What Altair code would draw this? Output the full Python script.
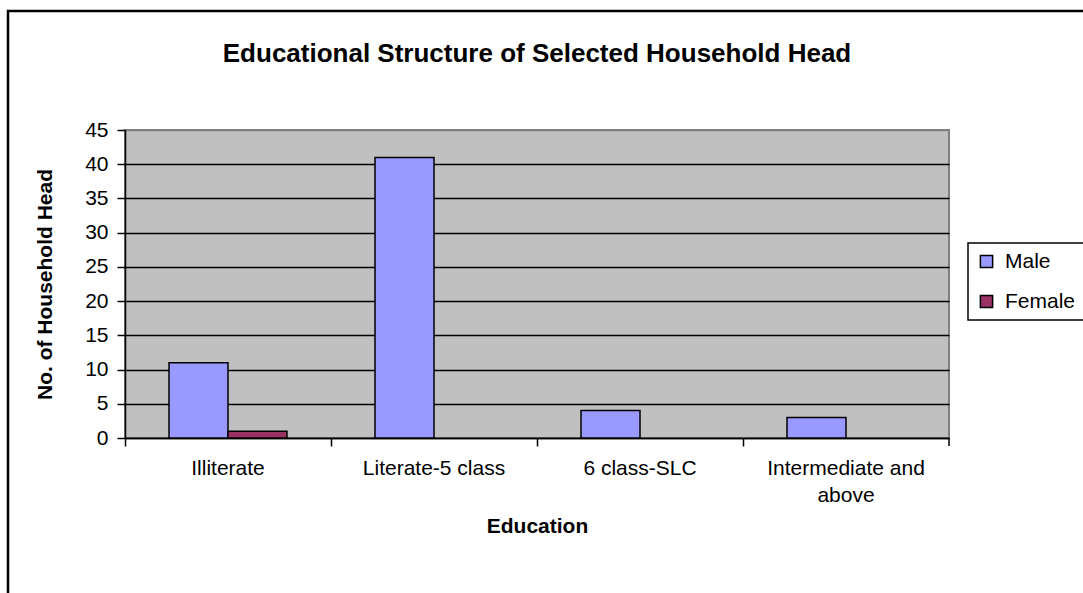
import altair as alt
import pandas as pd

categories = ["Illiterate", "Literate-5 class", "6 class-SLC", "Intermediate and above"]
series = ["Male", "Female"]
male = [11, 41, 4, 3]
female = [1, 0, 0, 0]
colors = ["#9999FF", "#993366"]
y_ticks = [0, 5, 10, 15, 20, 25, 30, 35, 40, 45]

rows = []
for c, m, f in zip(categories, male, female):
    rows.append({"education": c, "sex": "Male", "count": m})
    rows.append({"education": c, "sex": "Female", "count": f})
df = pd.DataFrame(rows)

W, H = 824, 308
FONT = "Liberation Sans"

bars = alt.Chart(df).transform_filter("datum.count > 0").mark_bar(
    stroke="black", strokeWidth=1.5
).encode(
    x=alt.X(
        "education:N",
        sort=categories,
        scale=alt.Scale(paddingInner=0, paddingOuter=0),
        axis=alt.Axis(
            title="Education",
            titleFontSize=21,
            titleFontWeight="bold",
            titleColor="black",
            titleBaseline="middle",
            titleY=88,
            labelAngle=0,
            labelFontSize=21,
            labelColor="black",
            labelPadding=11,
            labelLineHeight=27,
            labelExpr="datum.label == 'Intermediate and above' ? ['Intermediate and', 'above'] : datum.label",
            bandPosition=0,
            tickSize=8,
            tickColor="black",
            tickWidth=1.5,
            domainColor="black",
            domainWidth=1.5,
            grid=False,
        ),
    ),
    xOffset=alt.XOffset(
        "sex:N",
        sort=series,
        scale=alt.Scale(domain=series, paddingInner=0, paddingOuter=0.746),
    ),
    y=alt.Y(
        "count:Q",
        scale=alt.Scale(domain=[0, 45], nice=False),
        axis=alt.Axis(
            title="No. of Household Head",
            titleFontSize=21,
            titleFontWeight="bold",
            titleColor="black",
            titleX=-80,
            titleY=H / 2,
            titleAlign="center",
            titleBaseline="middle",
            titleAngle=270,
            values=y_ticks,
            labelFontSize=21,
            labelColor="black",
            labelPadding=9,
            tickSize=8,
            tickColor="black",
            tickWidth=1.5,
            domainColor="black",
            domainWidth=1.5,
            grid=True,
            gridColor={"condition": {"test": "datum.value == 45", "value": "#808080"}, "value": "black"},
            gridWidth=1.5,
        ),
    ),
    color=alt.Color(
        "sex:N",
        sort=series,
        scale=alt.Scale(domain=series, range=colors),
        legend=alt.Legend(
            title=None,
            orient="none",
            legendX=843,
            legendY=113,
            fillColor="white",
            strokeColor="black",
            padding=8,
            symbolType="square",
            symbolSize=150,
            symbolStrokeColor="black",
            symbolStrokeWidth=1.5,
            symbolOpacity=1,
            labelFontSize=21,
            labelColor="black",
            labelOffset=8,
            rowPadding=18,
        ),
    ),
)

end_tick = alt.Chart(alt.Data(values=[{}])).mark_rule(color="black", strokeWidth=1.5).encode(
    x=alt.value(W), y=alt.value(H), y2=alt.value(H + 8)
)

frame = alt.Chart(alt.Data(values=[{}])).mark_rect(
    fill=None, stroke="black", strokeWidth=2.5
).encode(
    x=alt.value(-117), x2=alt.value(1000), y=alt.value(-119), y2=alt.value(600)
)

chart = alt.layer(bars, end_tick, frame).properties(
    width=W,
    height=H,
    title=alt.Title(
        "Educational Structure of Selected Household Head",
        fontSize=26,
        fontWeight="bold",
        color="black",
        anchor="middle",
        frame="group",
        offset=0,
        dy=78,
        baseline="alphabetic",
    ),
    autosize=alt.AutoSizeParams(type="none"),
    padding={"left": 125, "top": 130, "right": 134, "bottom": 155},
    background="white",
).configure(font=FONT).configure_view(
    fill="#C0C0C0", stroke="#808080", strokeWidth=2
).configure_legend(strokeWidth=1.5)

chart.save("out.html", embed_options={"renderer": "svg", "actions": False})
